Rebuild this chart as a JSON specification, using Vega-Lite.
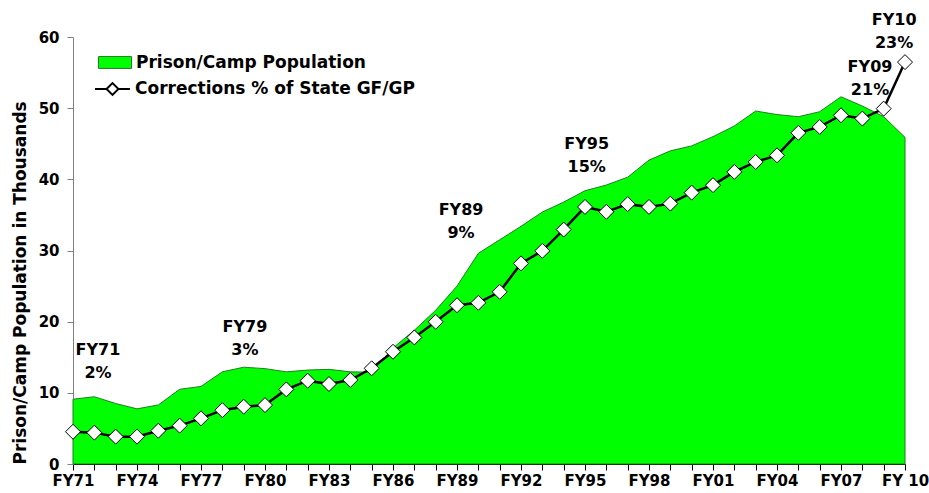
{
  "$schema": "https://vega.github.io/schema/vega-lite/v6.json",
  "width": 832,
  "height": 427,
  "autosize": {"type": "none"},
  "padding": {"left": 73, "top": 37, "right": 24, "bottom": 29},
  "background": "white",
  "config": {
    "view": {"stroke": null},
    "font": "DejaVu Sans",
    "axis": {"labelFont": "DejaVu Sans", "labelFontWeight": "bold", "titleFont": "DejaVu Sans", "titleFontWeight": "bold", "grid": false, "labelColor": "black", "titleColor": "black"},
    "axisX": {"labelOverlap": false, "labelFlush": false, "labelBound": false},
    "legend": {"labelFont": "DejaVu Sans", "labelFontWeight": "bold", "labelFontSize": 17, "labelColor": "black", "labelLimit": 0}
  },
  "datasets": {
    "series": [
      {"year": 1971, "population": 9.1, "pct": 1.85},
      {"year": 1972, "population": 9.45, "pct": 1.80},
      {"year": 1973, "population": 8.5, "pct": 1.57},
      {"year": 1974, "population": 7.75, "pct": 1.57},
      {"year": 1975, "population": 8.3, "pct": 1.91},
      {"year": 1976, "population": 10.5, "pct": 2.20},
      {"year": 1977, "population": 10.9, "pct": 2.62},
      {"year": 1978, "population": 12.95, "pct": 3.09},
      {"year": 1979, "population": 13.6, "pct": 3.29},
      {"year": 1980, "population": 13.4, "pct": 3.38},
      {"year": 1981, "population": 12.95, "pct": 4.28},
      {"year": 1982, "population": 13.2, "pct": 4.78},
      {"year": 1983, "population": 13.3, "pct": 4.59},
      {"year": 1984, "population": 12.95, "pct": 4.82},
      {"year": 1985, "population": 12.9, "pct": 5.49},
      {"year": 1986, "population": 16.3, "pct": 6.44},
      {"year": 1987, "population": 18.8, "pct": 7.26},
      {"year": 1988, "population": 21.6, "pct": 8.16},
      {"year": 1989, "population": 25.0, "pct": 9.11},
      {"year": 1990, "population": 29.6, "pct": 9.25},
      {"year": 1991, "population": 31.5, "pct": 9.88},
      {"year": 1992, "population": 33.4, "pct": 11.51},
      {"year": 1993, "population": 35.4, "pct": 12.23},
      {"year": 1994, "population": 36.8, "pct": 13.45},
      {"year": 1995, "population": 38.4, "pct": 14.75},
      {"year": 1996, "population": 39.2, "pct": 14.47},
      {"year": 1997, "population": 40.3, "pct": 14.91},
      {"year": 1998, "population": 42.7, "pct": 14.75},
      {"year": 1999, "population": 44.0, "pct": 14.94},
      {"year": 2000, "population": 44.7, "pct": 15.57},
      {"year": 2001, "population": 46.0, "pct": 16.00},
      {"year": 2002, "population": 47.5, "pct": 16.76},
      {"year": 2003, "population": 49.6, "pct": 17.33},
      {"year": 2004, "population": 49.1, "pct": 17.71},
      {"year": 2005, "population": 48.8, "pct": 19.00},
      {"year": 2006, "population": 49.5, "pct": 19.34},
      {"year": 2007, "population": 51.6, "pct": 20.01},
      {"year": 2008, "population": 50.3, "pct": 19.82},
      {"year": 2009, "population": 48.8, "pct": 20.39},
      {"year": 2010, "population": 45.9, "pct": 23.06}
    ],
    "notes": [
      {"x": 1972.17, "y": 15.95, "label": ["FY71", "2%"]},
      {"x": 1979.06, "y": 19.25, "label": ["FY79", "3%"]},
      {"x": 1989.19, "y": 35.75, "label": ["FY89", "9%"]},
      {"x": 1995.08, "y": 45.0, "label": ["FY95", "15%"]},
      {"x": 2008.36, "y": 55.8, "label": ["FY09", "21%"]},
      {"x": 2009.49, "y": 62.45, "label": ["FY10", "23%"]}
    ]
  },
  "resolve": {"scale": {"y": "independent"}},
  "layer": [
    {
      "data": {"name": "series"},
      "mark": {"type": "area", "stroke": "#1f7f1f", "strokeWidth": 1, "interpolate": "linear"},
      "encoding": {
        "x": {
          "field": "year", "type": "quantitative",
          "scale": {"domain": [1971, 2010], "nice": false, "zero": false},
          "axis": {
            "values": [1971,1972,1973,1974,1975,1976,1977,1978,1979,1980,1981,1982,1983,1984,1985,1986,1987,1988,1989,1990,1991,1992,1993,1994,1995,1996,1997,1998,1999,2000,2001,2002,2003,2004,2005,2006,2007,2008,2009,2010],
            "tickCount": 60,
            "labelExpr": "(datum.value - 1971) % 3 != 0 ? '' : (datum.value == 2010 ? 'FY 10' : 'FY' + slice('' + datum.value, 2))",
            "title": null, "labelFontSize": 15, "tickSize": 6, "labelPadding": 3,
            "domainColor": "black", "tickColor": "black", "labelOverlap": false, "labelFlush": false, "labelBound": false
          }
        },
        "y": {
          "field": "population", "type": "quantitative",
          "scale": {"domain": [0, 60], "nice": false},
          "axis": {
            "values": [0, 10, 20, 30, 40, 50, 60],
            "title": "Prison/Camp Population in Thousands",
            "titleFontSize": 17, "labelFontSize": 15, "tickSize": 6, "labelPadding": 8,
            "domainColor": "#808080", "tickColor": "#808080", "titlePadding": 9, "titleAnchor": "start"
          }
        },
        "fill": {
          "datum": "Prison/Camp Population", "type": "nominal",
          "scale": {"range": ["#00ff00"]},
          "legend": {
            "title": null, "orient": "none", "legendX": 25, "legendY": 8.5,
            "symbolType": "M-1,-0.36H1V0.36H-1Z", "symbolSize": 1089,
            "symbolStrokeColor": "#1f7f1f", "symbolStrokeWidth": 1, "labelOffset": 4
          }
        }
      }
    },
    {
      "data": {"name": "series"},
      "mark": {"type": "line", "strokeWidth": 2.5},
      "encoding": {
        "x": {"field": "year", "type": "quantitative"},
        "y": {"field": "pct", "type": "quantitative", "scale": {"domain": [0, 24.5], "nice": false}, "axis": null},
        "stroke": {
          "datum": "Corrections % of State GF/GP", "type": "nominal",
          "scale": {"range": ["black"]},
          "legend": {
            "title": null, "orient": "none", "legendX": 21, "legendY": 33.5,
            "symbolType": "M-1,0H-0.34M0.34,0H1M-0.34,0L0,-0.34L0.34,0L0,0.34Z", "symbolSize": 1225,
            "symbolFillColor": "white", "symbolStrokeWidth": 2, "labelOffset": 4
          }
        }
      }
    },
    {
      "data": {"name": "series"},
      "mark": {"type": "point", "shape": "diamond", "filled": true, "fill": "white", "stroke": "black", "strokeWidth": 1, "size": 225, "opacity": 1},
      "encoding": {
        "x": {"field": "year", "type": "quantitative"},
        "y": {"field": "pct", "type": "quantitative", "scale": {"domain": [0, 24.5], "nice": false}, "axis": null}
      }
    },
    {
      "data": {"name": "notes"},
      "mark": {"type": "text", "font": "DejaVu Sans", "fontWeight": "bold", "fontSize": 16, "lineHeight": 23, "align": "center", "baseline": "middle", "clip": false, "color": "black"},
      "encoding": {
        "x": {"field": "x", "type": "quantitative"},
        "y": {"field": "y", "type": "quantitative", "scale": {"domain": [0, 60], "nice": false}, "axis": null},
        "text": {"field": "label"}
      }
    }
  ]
}
